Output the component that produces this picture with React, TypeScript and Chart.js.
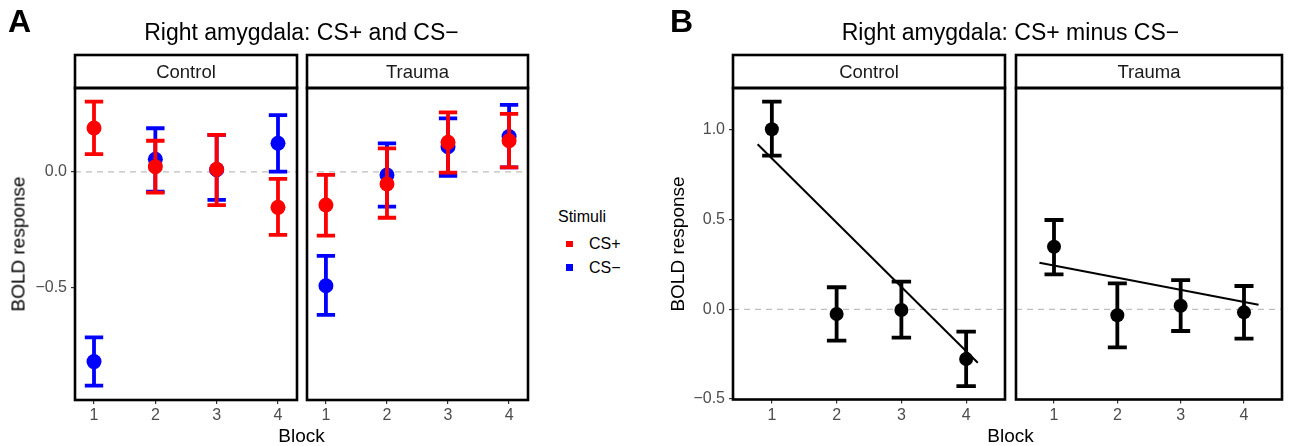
import React, { useEffect, useRef } from 'react';
import { Chart, registerables } from 'chart.js';

Chart.register(...registerables);

const FONT = "'Liberation Sans', Arial, Helvetica, sans-serif";

// ---------- data ----------
const blocks = [1, 2, 3, 4];
const groups = ['Control', 'Trauma'];
const stimuli = ['CS+', 'CS\u2212'];
const stimulusColors = ['#FF0000', '#0000FF'];

// Panel A: mean BOLD response per block, with error-bar limits
const aControlPlus = [0.19, 0.023, 0.012, -0.153];
const aControlPlusLo = [0.077, -0.089, -0.143, -0.272];
const aControlPlusHi = [0.304, 0.135, 0.16, -0.03];
const aControlMinus = [-0.82, 0.055, 0.01, 0.124];
const aControlMinusLo = [-0.924, -0.085, -0.121, 0.001];
const aControlMinusHi = [-0.715, 0.189, 0.16, 0.246];

const aTraumaPlus = [-0.143, -0.052, 0.128, 0.135];
const aTraumaPlusLo = [-0.275, -0.198, -0.003, 0.02];
const aTraumaPlusHi = [-0.013, 0.102, 0.258, 0.251];
const aTraumaMinus = [-0.492, -0.013, 0.109, 0.153];
const aTraumaMinusLo = [-0.618, -0.15, -0.017, 0.02];
const aTraumaMinusHi = [-0.363, 0.124, 0.232, 0.29];

// Panel B: CS+ minus CS−
const bControlDiff = [1.004, -0.026, -0.004, -0.277];
const bControlLo = [0.857, -0.175, -0.158, -0.428];
const bControlHi = [1.158, 0.123, 0.154, -0.125];
const bTraumaDiff = [0.349, -0.033, 0.02, -0.017];
const bTraumaLo = [0.195, -0.212, -0.121, -0.164];
const bTraumaHi = [0.498, 0.145, 0.163, 0.13];

// fitted regression lines (endpoints)
const bControlFitX = [0.78, 4.18];
const bControlFitY = [0.92, -0.298];
const bTraumaFitX = [0.77, 4.23];
const bTraumaFitY = [0.26, 0.025];

const aYTicks = [-0.5, 0];
const bYTicks = [-0.5, 0, 0.5, 1];

// ---------- helpers ----------
const fmt = (v: number) => v.toFixed(1).replace('-', '\u2212');

function pts(ys: number[]) {
  return blocks.map((b, i) => ({ x: b, y: ys[i] }));
}

function stimulusDatasets(plus: number[], plusLo: number[], plusHi: number[], minus: number[], minusLo: number[], minusHi: number[]) {
  return [
    { label: stimuli[0], data: pts(plus), errLow: plusLo, errHigh: plusHi, backgroundColor: stimulusColors[0], borderColor: stimulusColors[0], pointRadius: 7.5, pointHoverRadius: 7.5, borderWidth: 0, capW: 0.3, errW: 3.8 },
    { label: stimuli[1], data: pts(minus), errLow: minusLo, errHigh: minusHi, backgroundColor: stimulusColors[1], borderColor: stimulusColors[1], pointRadius: 7.5, pointHoverRadius: 7.5, borderWidth: 0, capW: 0.3, errW: 3.8 },
  ];
}

function diffDatasets(diff: number[], lo: number[], hi: number[], fx: number[], fy: number[]) {
  return [
    { label: 'fit', data: fx.map((x, i) => ({ x, y: fy[i] })), showLine: true, borderColor: '#000', backgroundColor: '#000', borderWidth: 2, pointRadius: 0, pointHoverRadius: 0 },
    { label: 'CS+ minus CS\u2212', data: pts(diff), errLow: lo, errHigh: hi, backgroundColor: '#000', borderColor: '#000', pointRadius: 7, pointHoverRadius: 7, borderWidth: 0, capW: 0.3, errW: 3.8 },
  ];
}

type Spec = {
  label: string;
  left: number;
  width: number;
  padLeft: number;
  padRight: number;
  yAxisWidth: number | null;
  plotTop: number;
  plotBottom: number;
  xMin: number;
  xMax: number;
  yMin: number;
  yMax: number;
  yTicks: number[];
  datasets: any[];
};

const H = 446;

function Facet({ spec }: { spec: Spec }) {
  const ref = useRef<HTMLCanvasElement>(null);
  useEffect(() => {
    const canvas = ref.current!;
    const decor = {
      id: 'facetDecor',
      beforeDatasetsDraw(chart: any) {
        const { ctx, chartArea } = chart;
        const y0 = chart.scales.y.getPixelForValue(0);
        ctx.save();
        ctx.strokeStyle = '#BEBEBE';
        ctx.lineWidth = 1.2;
        ctx.setLineDash([6, 5]);
        ctx.beginPath();
        ctx.moveTo(chartArea.left, y0);
        ctx.lineTo(chartArea.right, y0);
        ctx.stroke();
        ctx.restore();
      },
      beforeDatasetDraw(chart: any, args: any) {
        const ds = chart.data.datasets[args.index];
        if (!ds.errLow) return;
        const { ctx } = chart;
        const xs = chart.scales.x;
        const ys = chart.scales.y;
        ctx.save();
        ctx.strokeStyle = ds.borderColor;
        ctx.lineWidth = ds.errW;
        ctx.lineCap = 'butt';
        ds.data.forEach((p: any, j: number) => {
          const x = xs.getPixelForValue(p.x);
          const x1 = xs.getPixelForValue(p.x - ds.capW / 2);
          const x2 = xs.getPixelForValue(p.x + ds.capW / 2);
          const yl = ys.getPixelForValue(ds.errLow[j]);
          const yh = ys.getPixelForValue(ds.errHigh[j]);
          ctx.beginPath();
          ctx.moveTo(x, yl);
          ctx.lineTo(x, yh);
          ctx.moveTo(x1, yh);
          ctx.lineTo(x2, yh);
          ctx.moveTo(x1, yl);
          ctx.lineTo(x2, yl);
          ctx.stroke();
        });
        ctx.restore();
      },
      afterDraw(chart: any) {
        const { ctx, chartArea } = chart;
        const { left, right, top, bottom } = chartArea;
        const stripH = 33;
        ctx.save();
        ctx.fillStyle = '#FFFFFF';
        ctx.fillRect(left, top - stripH, right - left, stripH);
        ctx.strokeStyle = '#000';
        ctx.lineWidth = 2.6;
        ctx.strokeRect(left, top - stripH, right - left, stripH);
        ctx.strokeRect(left, top, right - left, bottom - top);
        ctx.fillStyle = '#1A1A1A';
        ctx.font = `18.5px ${FONT}`;
        ctx.textAlign = 'center';
        ctx.textBaseline = 'alphabetic';
        ctx.fillText(spec.label, (left + right) / 2, top - 10);
        ctx.restore();
      },
    };

    const chart = new Chart(canvas, {
      type: 'scatter',
      data: { datasets: spec.datasets },
      options: {
        animation: false,
        responsive: false,
        maintainAspectRatio: false,
        devicePixelRatio: 1,
        events: [],
        layout: { padding: { top: spec.plotTop, left: spec.padLeft, right: spec.padRight, bottom: 0 } },
        plugins: { legend: { display: false }, tooltip: { enabled: false }, title: { display: false } },
        scales: {
          x: {
            type: 'linear',
            min: spec.xMin,
            max: spec.xMax,
            afterBuildTicks: (s: any) => { s.ticks = blocks.map((v) => ({ value: v })); },
            afterFit: (s: any) => { s.height = H - spec.plotBottom; },
            grid: { display: true, drawOnChartArea: false, drawTicks: true, tickLength: 4, color: '#333333', lineWidth: 1.2 },
            border: { display: false },
            ticks: { color: '#4D4D4D', font: { family: FONT, size: 16 }, padding: 2, maxRotation: 0, autoSkip: false, callback: (v: any) => String(v) },
          },
          y: {
            type: 'linear',
            display: spec.yAxisWidth !== null,
            min: spec.yMin,
            max: spec.yMax,
            afterBuildTicks: (s: any) => { s.ticks = spec.yTicks.map((v) => ({ value: v })); },
            afterFit: (s: any) => { if (spec.yAxisWidth !== null) s.width = spec.yAxisWidth; },
            grid: { display: true, drawOnChartArea: false, drawTicks: true, tickLength: 4, color: '#333333', lineWidth: 1.2 },
            border: { display: false },
            ticks: { color: '#4D4D4D', font: { family: FONT, size: 16 }, padding: 4, autoSkip: false, callback: (v: any) => fmt(Number(v)) },
          },
        },
      } as any,
      plugins: [decor],
    });
    return () => chart.destroy();
  }, []);
  return (
    <canvas
      ref={ref}
      width={spec.width}
      height={H}
      style={{ position: 'absolute', left: spec.left, top: 0, width: spec.width, height: H }}
    />
  );
}

function Txt({ text, x, baseline, size, bold, align, color, rotate }: any) {
  const top = baseline - 0.8465 * size;
  const style: any = {
    position: 'absolute',
    fontFamily: FONT,
    fontSize: size,
    lineHeight: `${size}px`,
    fontWeight: bold ? 'bold' : 'normal',
    color: color || '#000',
    whiteSpace: 'nowrap',
  };
  if (rotate) {
    // x = baseline x position, baseline param = vertical centre
    style.left = x - 0.3465 * size;
    style.top = baseline;
    style.transform = 'translate(-50%, -50%) rotate(-90deg)';
  } else {
    style.left = x;
    style.top = top;
    if (align === 'center') style.transform = 'translateX(-50%)';
  }
  return <div style={style}>{text}</div>;
}

const aRange = { xMin: 0.69, xMax: 4.31, yMin: -0.986, yMax: 0.363 };
const bRange = { xMin: 0.4, xMax: 4.6, yMin: -0.503, yMax: 1.234 };

const specs: Spec[] = [
  { label: groups[0], left: 0, width: 305, padLeft: 0, padRight: 8, yAxisWidth: 75, plotTop: 88, plotBottom: 400, ...aRange, yTicks: aYTicks,
    datasets: stimulusDatasets(aControlPlus, aControlPlusLo, aControlPlusHi, aControlMinus, aControlMinusLo, aControlMinusHi) },
  { label: groups[1], left: 297, width: 240, padLeft: 10, padRight: 9, yAxisWidth: null, plotTop: 88, plotBottom: 400, ...aRange, yTicks: aYTicks,
    datasets: stimulusDatasets(aTraumaPlus, aTraumaPlusLo, aTraumaPlusHi, aTraumaMinus, aTraumaMinusLo, aTraumaMinusHi) },
  { label: groups[0], left: 660, width: 353, padLeft: 0, padRight: 8, yAxisWidth: 73, plotTop: 88, plotBottom: 399.5, ...bRange, yTicks: bYTicks,
    datasets: diffDatasets(bControlDiff, bControlLo, bControlHi, bControlFitX, bControlFitY) },
  { label: groups[1], left: 1006, width: 283, padLeft: 10, padRight: 1, yAxisWidth: null, plotTop: 88, plotBottom: 399.5, ...bRange, yTicks: bYTicks,
    datasets: diffDatasets(bTraumaDiff, bTraumaLo, bTraumaHi, bTraumaFitX, bTraumaFitY) },
];

export default function App() {
  return (
    <div style={{ position: 'absolute', left: 0, top: 0, width: 1289, height: H, overflow: 'hidden', background: '#FFFFFF' }}>
      {specs.map((s, i) => <Facet key={i} spec={s} />)}

      <Txt text="A" x={8} baseline={32} size={32} bold />
      <Txt text="B" x={670} baseline={32} size={32} bold />
      <Txt text={'Right amygdala: CS+ and CS\u2212'} x={301.5} baseline={40} size={23} align="center" />
      <Txt text={'Right amygdala: CS+ minus CS\u2212'} x={1010.5} baseline={40} size={23} align="center" />

      <Txt text="Block" x={301.5} baseline={442} size={19} align="center" />
      <Txt text="Block" x={1010.5} baseline={442} size={19} align="center" />
      <Txt text="BOLD response" x={25} baseline={244} size={19} rotate />
      <Txt text="BOLD response" x={684} baseline={244} size={19} rotate />

      {/* legend */}
      <Txt text="Stimuli" x={558} baseline={222.3} size={16} />
      {stimuli.map((s, i) => (
        <React.Fragment key={s}>
          <div style={{ position: 'absolute', left: 566, top: 240.7 + i * 23.5, width: 6.5, height: 6.5, background: stimulusColors[i] }} />
          <Txt text={s} x={589} baseline={250 + i * 23.3} size={16} />
        </React.Fragment>
      ))}
    </div>
  );
}
